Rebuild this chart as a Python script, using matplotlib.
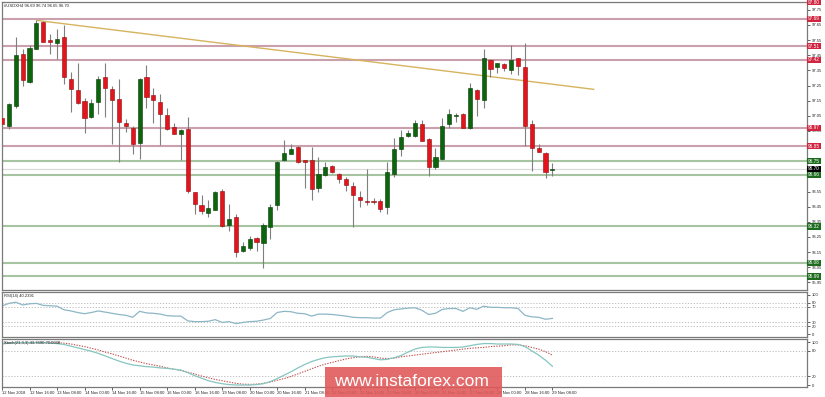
import numpy as np
import matplotlib
matplotlib.use("Agg")
import matplotlib.pyplot as plt
from matplotlib.patches import Rectangle

plt.rcParams["font.family"] = ["Liberation Sans", "DejaVu Sans"]

W, H = 825, 397

# ---------------------------------------------------------------- data (H4 candles, 12 Nov 00:00 .. 29 Nov 08:00)
opens = [97.035, 96.98, 97.114, 97.461, 97.271, 97.494, 97.671, 97.553, 97.534, 97.573,
         97.291, 97.219, 97.147, 97.042, 97.14, 97.304, 97.225, 97.16, 97.002, 96.97,
         96.871, 97.304, 97.186, 97.14, 97.055, 96.976, 96.93, 96.965, 96.545, 96.458,
         96.407, 96.43, 96.557, 96.327, 96.38, 96.157, 96.18, 96.245, 96.21, 96.316,
         96.458, 96.76, 96.80, 96.845, 96.757, 96.757, 96.575, 96.66, 96.72, 96.668,
         96.63, 96.59, 96.517, 96.49, 96.49, 96.49, 96.447, 96.668, 96.83, 96.917,
         96.917, 96.994, 96.895, 96.714, 96.765, 96.994, 97.05, 97.063, 96.968, 97.223,
         97.153, 97.42, 97.37, 97.39, 97.355, 97.43, 97.37, 96.994, 96.84, 96.804,
         96.69]
highs = [97.05, 97.136, 97.573, 97.494, 97.52, 97.684, 97.678, 97.593, 97.625, 97.652,
         97.337, 97.402, 97.166, 97.16, 97.31, 97.402, 97.245, 97.29, 97.029, 96.983,
         97.297, 97.383, 97.232, 97.193, 97.10, 97.002, 96.963, 97.042, 96.55, 96.53,
         96.497, 96.557, 96.57, 96.465, 96.405, 96.218, 96.255, 96.25, 96.342, 96.465,
         96.753, 96.889, 96.866, 96.848, 96.76, 96.845, 96.78, 96.747, 96.727, 96.675,
         96.644, 96.61, 96.556, 96.70, 96.51, 96.504, 96.747, 96.906, 96.955, 96.955,
         97.02, 97.02, 96.906, 96.836, 97.033, 97.098, 97.07, 97.066, 97.27, 97.225,
         97.49, 97.428, 97.40, 97.396, 97.52, 97.433, 97.53, 97.02, 96.863, 96.808,
         96.74]
lows = [96.98, 96.965, 97.10, 97.245, 97.265, 97.49, 97.535, 97.461, 97.428, 97.258,
        97.075, 97.127, 96.937, 97.035, 97.06, 97.042, 96.865, 96.747, 96.943, 96.80,
        96.766, 97.10, 97.002, 96.858, 96.955, 96.93, 96.76, 96.54, 96.40, 96.40,
        96.38, 96.425, 96.318, 96.29, 96.12, 96.15, 96.163, 96.16, 96.043, 96.24,
        96.43, 96.755, 96.795, 96.74, 96.575, 96.495, 96.545, 96.655, 96.672, 96.604,
        96.556, 96.316, 96.447, 96.458, 96.47, 96.415, 96.405, 96.644, 96.786, 96.91,
        96.91, 96.885, 96.655, 96.70, 96.76, 96.968, 97.01, 96.968, 96.965, 97.05,
        97.10, 97.304, 97.33, 97.343, 97.326, 97.32, 96.85, 96.688, 96.808, 96.64,
        96.65]
closes = [96.996, 97.127, 97.455, 97.284, 97.50, 97.665, 97.54, 97.54, 97.56, 97.304,
          97.225, 97.134, 97.035, 97.134, 97.29, 97.232, 97.153, 97.009, 96.983, 96.865,
          97.291, 97.173, 97.153, 97.061, 96.963, 96.932, 96.957, 96.557, 96.47, 96.42,
          96.439, 96.55, 96.32, 96.366, 96.15, 96.19, 96.235, 96.216, 96.327, 96.447,
          96.747, 96.806, 96.834, 96.747, 96.747, 96.568, 96.665, 96.71, 96.677, 96.633,
          96.596, 96.53, 96.495, 96.48, 96.48, 96.437, 96.677, 96.834, 96.91, 96.937,
          97.0, 96.885, 96.71, 96.775, 96.983, 97.063, 97.056, 96.97, 97.234, 97.16,
          97.435, 97.36, 97.40, 97.363, 97.42, 97.376, 96.983, 96.84, 96.814, 96.677,
          96.70]

rsi = [71.5, 78, 81, 74, 77, 78, 73, 72, 71, 62,
       59, 55, 52, 55, 59, 56, 53, 50, 48, 43,
       58, 54, 53, 51, 47, 46, 46, 34, 32, 32,
       33, 37, 30, 32, 27, 30, 32, 33, 36, 40,
       55, 58, 57, 53, 52, 46, 51, 51, 50, 48,
       46, 43, 42, 42, 41, 41, 55, 62, 64, 66,
       67, 61, 50, 53, 63, 65, 65, 58, 67, 63,
       71, 68, 68, 67, 67, 65, 48, 44, 43, 38,
       40.2]
stoch_main = [96, 98, 99, 99, 99, 99, 99, 98, 97, 95,
              91, 87, 83, 79, 74, 68, 62, 56, 51, 47,
              45, 43, 42, 40, 39, 37, 35, 29, 22, 16,
              10, 6, 3, 1, 0, 0, 0, 1, 3, 8,
              15, 23, 31, 40, 48, 55, 60, 64, 66, 67,
              68, 68, 66, 65, 62, 59, 60, 64, 69, 77,
              84, 88, 89, 89, 88, 88, 88, 89, 92, 95,
              97, 97, 96, 96, 96, 95, 90, 80, 70, 58,
              43.8]
stoch_signal = [99, 99, 99, 99, 99, 99, 99, 99, 99, 98,
                96, 93, 90, 86, 82, 77, 73, 68, 63, 58,
                54, 50, 47, 44, 40, 37, 34, 30, 26, 21,
                17, 13, 10, 7, 4, 2, 1.5, 2, 4, 7,
                11, 15, 20, 26, 32, 38, 44, 49, 53, 57,
                61, 64, 66, 67, 66, 63, 62, 63, 66, 68,
                70, 72, 74, 76, 78, 80, 82, 84, 86, 87,
                88, 90, 91, 92, 94, 94, 92, 88, 84, 78,
                70]

red_levels = [97.80, 97.69, 97.51, 97.42, 96.97, 96.85]
green_levels = [96.75, 96.66, 96.32, 96.08, 95.99]
last_price = 96.70
trend_idx = [5.1, 86.0]
trend_px = [97.68, 97.225]

price_ticks = [95.95, 96.05, 96.15, 96.25, 96.35, 96.45, 96.55, 96.65, 96.75, 96.85,
               96.95, 97.05, 97.15, 97.25, 97.35, 97.45, 97.55, 97.65, 97.75]
rsi_ticks = [0, 20, 30, 70, 80, 100]
stoch_ticks = [0, 20, 80, 100]
date_idx = list(range(0, 81, 4))
date_labels = ["12 Nov 2018", "12 Nov 16:00", "13 Nov 08:00", "14 Nov 00:00", "14 Nov 16:00",
               "15 Nov 08:00", "16 Nov 00:00", "16 Nov 16:00", "19 Nov 08:00", "20 Nov 00:00",
               "20 Nov 16:00", "21 Nov 08:00", "22 Nov 00:00", "22 Nov 16:00", "23 Nov 08:00",
               "26 Nov 00:00", "26 Nov 16:00", "27 Nov 08:00", "28 Nov 00:00", "28 Nov 16:00",
               "29 Nov 08:00"]

# ---------------------------------------------------------------- layout
fig = plt.figure(figsize=(W / 100, H / 100), dpi=100)
fig.patch.set_facecolor("white")


def rect(l, t, r, b):
    return [l / W, 1 - b / H, (r - l) / W, (b - t) / H]


ax = fig.add_axes(rect(1.5, 1.5, 807, 290))
ax_rsi = fig.add_axes(rect(1.5, 291.5, 807, 336.5))
ax_st = fig.add_axes(rect(1.5, 338.5, 807, 386.5))
XL = (-0.07, 117.0)
FS = 3.0      # tiny terminal-style text
FSB = 3.4     # text in the level boxes

for a in (ax, ax_rsi, ax_st):
    a.set_xlim(*XL)
    for s in a.spines.values():
        s.set_color("#7a7a7a"); s.set_linewidth(0.9)
    a.yaxis.tick_right()
    a.tick_params(axis="y", labelsize=FS, length=2, width=0.5, pad=1.2, colors="#222222")
    a.tick_params(axis="x", length=0)
for a in (ax, ax_rsi):
    a.set_xticks([])

# ---------------------------------------------------------------- main price panel
ax.set_ylim(95.90, 97.805)
ax.set_yticks(price_ticks)
ax.set_yticklabels([f"{v:.2f}" for v in price_ticks])

for v in red_levels:
    ax.axhline(v, color="#c9a0ab", lw=1.5, zorder=1)
for v in green_levels:
    ax.axhline(v, color="#a6c3a2", lw=1.5, zorder=1)
ax.axhline(last_price, color="#dadada", lw=0.9, zorder=1)

ax.plot(trend_idx, trend_px, color="#d6b35e", lw=1.0, zorder=2)

o, hi, lo, c = map(np.asarray, (opens, highs, lows, closes))
idx = np.arange(len(o))
up = c >= o
ax.vlines(idx, lo, hi, color="#7f7f7f", lw=0.8, zorder=3)
bottom = np.minimum(o, c)
height = np.maximum(np.abs(c - o), 0.005)
ax.bar(idx[up], height[up], bottom=bottom[up], width=0.6, color="#0c650c",
       edgecolor="#063806", lw=0.4, zorder=4)
ax.bar(idx[~up], height[~up], bottom=bottom[~up], width=0.6, color="#e3141c",
       edgecolor="#8a1010", lw=0.4, zorder=4)

tr = ax.get_yaxis_transform()
for v in red_levels:
    ax.text(1.0015, v, f"{v:.2f}", transform=tr, fontsize=FSB, color="white", ha="left",
            va="center", clip_on=False, zorder=6,
            bbox=dict(boxstyle="square,pad=0.15", fc="#d0243f", ec="none"))
for v in green_levels:
    ax.text(1.0015, v, f"{v:.2f}", transform=tr, fontsize=FSB, color="white", ha="left",
            va="center", clip_on=False, zorder=6,
            bbox=dict(boxstyle="square,pad=0.15", fc="#1d6b1d", ec="none"))
ax.text(1.0015, last_price, f"{last_price:.2f}", transform=tr, fontsize=FSB, color="white",
        ha="left", va="center", clip_on=False, zorder=7,
        bbox=dict(boxstyle="square,pad=0.15", fc="black", ec="none"))

ax.text(0.003, 0.993, "#USDXH4 96.69 96.74 96.65 96.70", transform=ax.transAxes,
        fontsize=FS, ha="left", va="top", color="#222222")

# ---------------------------------------------------------------- RSI panel
ax_rsi.set_ylim(-5.5, 108.0)
ax_rsi.set_yticks(rsi_ticks)
ax_rsi.set_yticklabels([str(v) for v in rsi_ticks])
for v in (20, 30, 70, 80):
    ax_rsi.axhline(v, color="#b5b5b5", lw=0.6, ls=(0, (1.5, 2)))
ax_rsi.plot(idx, rsi, color="#8db6c6", lw=0.9)
ax_rsi.text(0.003, 0.95, "RSI(14) 40.2391", transform=ax_rsi.transAxes,
            fontsize=FS, ha="left", va="top", color="#222222")

# ---------------------------------------------------------------- Stochastic panel
ax_st.set_ylim(-3.5, 108.9)
ax_st.set_yticks(stoch_ticks)
ax_st.set_yticklabels([str(v) for v in stoch_ticks])
for v in (20, 80):
    ax_st.axhline(v, color="#b5b5b5", lw=0.6, ls=(0, (1.5, 2)))
ax_st.plot(idx, stoch_signal, color="#c0504d", lw=0.8, ls=(0, (1.2, 1.2)))
ax_st.plot(idx, stoch_main, color="#86c6c0", lw=0.9)
ax_st.text(0.003, 0.95, "Stoch(21,3,3) 43.7690 70.0338", transform=ax_st.transAxes,
           fontsize=FS, ha="left", va="top", color="#222222")
ax_st.set_xticks(date_idx)
ax_st.set_xticklabels(date_labels)
ax_st.tick_params(axis="x", labelsize=FS, length=2, width=0.5, pad=1.5, colors="#222222")
for lbl in ax_st.get_xticklabels():
    lbl.set_ha("left")

# ---------------------------------------------------------------- watermark
fig.add_artist(Rectangle((325 / W, 0), 177 / W, 30.5 / H, transform=fig.transFigure,
                         fc="#e05757", ec="none", alpha=0.88, zorder=10))
fig.text(411.5 / W, 1 - 382 / H, "www.instaforex.com", fontsize=12.5, color="white",
         ha="center", va="center", zorder=11)

fig.savefig("out.png", dpi=100)
